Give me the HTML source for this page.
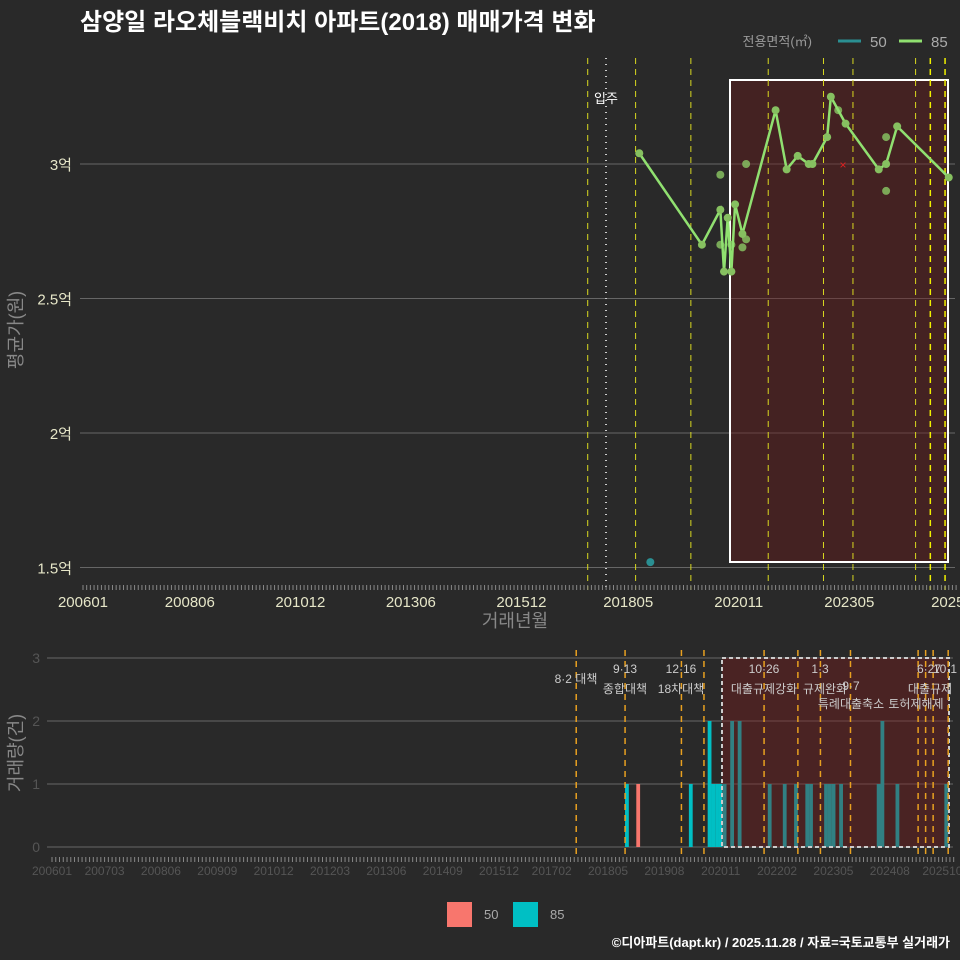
<!DOCTYPE html>
<html><head><meta charset="utf-8"><style>
html,body{margin:0;padding:0;background:#292929;}
svg{display:block;font-family:"Liberation Sans","Noto Sans CJK KR",sans-serif;}
</style></head><body>
<svg id="c" width="960" height="960" xmlns="http://www.w3.org/2000/svg">
<rect width="960" height="960" fill="#292929"/>
<text x="80" y="30" fill="#fff" font-size="24" font-weight="bold">삼양일 라오체블랙비치 아파트(2018) 매매가격 변화</text>
<text x="950" y="947" fill="#fff" font-size="13" font-weight="bold" text-anchor="end">©디아파트(dapt.kr) / 2025.11.28 / 자료=국토교통부 실거래가</text>
<g>
<text x="812" y="46" fill="#999" font-size="13" text-anchor="end">전용면적(㎡)</text>
<line x1="838" y1="41" x2="861" y2="41" stroke="#2a8f92" stroke-width="3"/>
<text x="870" y="47" fill="#aaa" font-size="15">50</text>
<line x1="899" y1="41" x2="922" y2="41" stroke="#90e070" stroke-width="3"/>
<text x="931" y="47" fill="#aaa" font-size="15">85</text>
</g>
<g>
<rect x="447" y="902" width="25" height="25" fill="#F8766D"/>
<text x="484" y="919" fill="#aaa" font-size="13">50</text>
<rect x="513" y="902" width="25" height="25" fill="#00BFC4"/>
<text x="550" y="919" fill="#aaa" font-size="13">85</text>
</g>
<text transform="translate(22,330) rotate(-90)" fill="#888" font-size="18" text-anchor="middle">평균가(원)</text>
<text transform="translate(22,753) rotate(-90)" fill="#888" font-size="18" text-anchor="middle">거래량(건)</text>
<text x="515" y="627" fill="#888" font-size="18" text-anchor="middle">거래년월</text>
</svg>
<script>
const lineMonths=['201808','202001','202006','202007','202008','202009','202010','202012','202109','202112','202203','202206','202207','202211','202212','202304','202401','202403','202406','202508'];
const lineValues=[3.04,2.70,2.83,2.60,2.80,2.60,2.85,2.74,3.20,2.98,3.03,3.00,3.00,3.10,3.25,3.15,2.98,3.00,3.14,2.95];
const scatterMonths=['202006','202101','202101','202006','202009','202012','202302','202403','202403'];
const scatterValues=[2.96,3.00,2.72,2.70,2.70,2.69,3.20,3.10,2.90];
const small50Months=['201811'];
const small50Values=[1.52];
const priceTicks=[1.5,2,2.5,3];
const priceTickLabels=['1.5억','2억','2.5억','3억'];
const topXLabels=['200601','200806','201012','201306','201512','201805','202011','202305','202510'];
const botXLabels=['200601','200703','200806','200909','201012','201203','201306','201409','201512','201702','201805','201908','202011','202202','202305','202408','202510'];
const bar85Months=['201810','202003','202008','202009','202010','202011','202012','202102','202104','202112','202204','202207','202210','202211','202303','202304','202305','202307','202405','202406','202410','202511'];
const bar85Counts=[1,1,2,1,1,1,1,2,2,1,1,1,1,1,1,1,1,1,1,2,1,1];
const bar50Months=['201901'];
const bar50Counts=[1];
const volTicks=[0,1,2,3];
const topPolicyMonths=['201706','201807','201910','202107','202210','202306','202411','202503','202507'];
const botPolicyMonths=['201708','201809','201912','202006','202110','202207','202301','202309','202503','202505','202507','202511'];
const polLabels=[['8·2 대책',576,683],['9·13',625,673],['종합대책',625,693],['12·16',681,673],['18차대책',681,693],['10·26',764,673],['대출규제강화',764,693],['1·3',820,673],['규제완화',825,693],['9·7',851,690],['특례대출축소',851,708],['토허제해제',916,708],['6·27',929,673],['10·1',945,673],['대출규제',930,693]];

const svg=document.getElementById('c');
const NS='http://www.w3.org/2000/svg';
function mk(t,a,p){const e=document.createElementNS(NS,t);for(const k in a)e.setAttribute(k,a[k]);(p||svg).appendChild(e);return e;}
function mi(s){return (parseInt(s.slice(0,4))-2006)*12+parseInt(s.slice(4))-1;}
const tx=m=>83+3.684*mi(m);
const ty=v=>164+(3-v)*269;
const bx=m=>52+3.757*mi(m);
const by=c=>847-63*c;

const gTop=mk('g',{});


priceTicks.forEach((v,i)=>{
  const l=mk('line',{x1:80,x2:955,y1:ty(v),y2:ty(v),stroke:'#666','stroke-width':1},gTop);
  
  
  const t=mk('text',{x:72,y:ty(v)+6,fill:'#e6e6c8','font-size':15,'text-anchor':'end'},gTop);
  t.textContent=priceTickLabels[i];
  
  
});
const box=mk('rect',{x:730,y:80,width:218,height:482,fill:'rgba(110,25,25,0.4)',stroke:'#fff','stroke-width':2},gTop);


topPolicyMonths.forEach((m,i)=>{
  const br=i>=7;
  const l=mk('line',{x1:tx(m),x2:tx(m),y1:58,y2:590,stroke:br?'#f0f000':'#d8d820','stroke-width':br?1.5:1,'stroke-dasharray':'6,5'},gTop);
  
  
});
const mv=mk('line',{x1:606,x2:606,y1:58,y2:590,stroke:'#ccc','stroke-width':2,'stroke-dasharray':'1,5'},gTop);


const mvt=mk('text',{x:606,y:103,fill:'#fff','font-size':13,'text-anchor':'middle'},gTop);
mvt.textContent='입주';


scatterMonths.forEach((m,i)=>{
  const c=mk('circle',{cx:tx(m),cy:ty(scatterValues[i]),r:4,fill:'#86c060',opacity:0.85},gTop);
  
  
});
const pts=lineMonths.map((m,i)=>tx(m)+','+ty(lineValues[i])).join(' ');
const pl=mk('polyline',{points:pts,fill:'none',stroke:'#90e070','stroke-width':2.5},gTop);


lineMonths.forEach((m,i)=>{
  const c=mk('circle',{cx:tx(m),cy:ty(lineValues[i]),r:4,fill:'#86c060'},gTop);
  
  
});
small50Months.forEach((m,i)=>{
  const c=mk('circle',{cx:tx(m),cy:ty(small50Values[i]),r:4,fill:'#2a8f92'},gTop);
  
  
});
const xm=mk('text',{x:843,y:169,fill:'#e02020','font-size':12,'text-anchor':'middle'},gTop);
xm.textContent='×';


for(let k=0;k<=237;k++){
  const x=83+3.684*k;
  const t=mk('line',{x1:x,x2:x,y1:585,y2:590,stroke:'#888','stroke-width':1},gTop);
  
  
}
topXLabels.forEach(s=>{
  const t=mk('text',{x:tx(s),y:607,fill:'#e6e6c8','font-size':15,'text-anchor':'middle'},gTop);
  t.textContent=s;
  
  
});

const gB=mk('g',{});


volTicks.forEach(v=>{
  const l=mk('line',{x1:47,x2:953,y1:by(v),y2:by(v),stroke:'#666','stroke-width':1},gB);
  
  
  const t=mk('text',{x:40,y:by(v)+5,fill:'#555','font-size':14,'text-anchor':'end'},gB);
  t.textContent=v;
  
  
});
bar85Months.forEach((m,i)=>{
  const r=mk('rect',{x:bx(m)-1.8,y:by(bar85Counts[i]),width:3.8,height:63*bar85Counts[i],fill:'#00BFC4'},gB);
  
  
});
bar50Months.forEach((m,i)=>{
  const r=mk('rect',{x:bx(m)-1.8,y:by(bar50Counts[i]),width:3.8,height:63*bar50Counts[i],fill:'#F8766D'},gB);
  
  
});
const bb=mk('rect',{x:722,y:658,width:227,height:189,fill:'rgba(130,25,25,0.38)',stroke:'#ccc','stroke-width':2,'stroke-dasharray':'4,3'},gB);


botPolicyMonths.forEach(m=>{
  const l=mk('line',{x1:bx(m)+2,x2:bx(m)+2,y1:650,y2:858,stroke:'#e8a020','stroke-width':1.5,'stroke-dasharray':'6,5'},gB);
  
  
});
polLabels.forEach(p=>{
  const t=mk('text',{x:p[1],y:p[2],fill:'#ccc','font-size':12,'text-anchor':'middle'},gB);
  t.textContent=p[0];
  
  
});
for(let k=0;k<=240;k++){
  const x=52+3.757*k;
  const t=mk('line',{x1:x,x2:x,y1:857,y2:862,stroke:'#888','stroke-width':1},gB);
  
  
}
botXLabels.forEach(s=>{
  const t=mk('text',{x:bx(s),y:875,fill:'#555','font-size':12,'text-anchor':'middle'},gB);
  t.textContent=s;
  
  
});
</script>
</body></html>
